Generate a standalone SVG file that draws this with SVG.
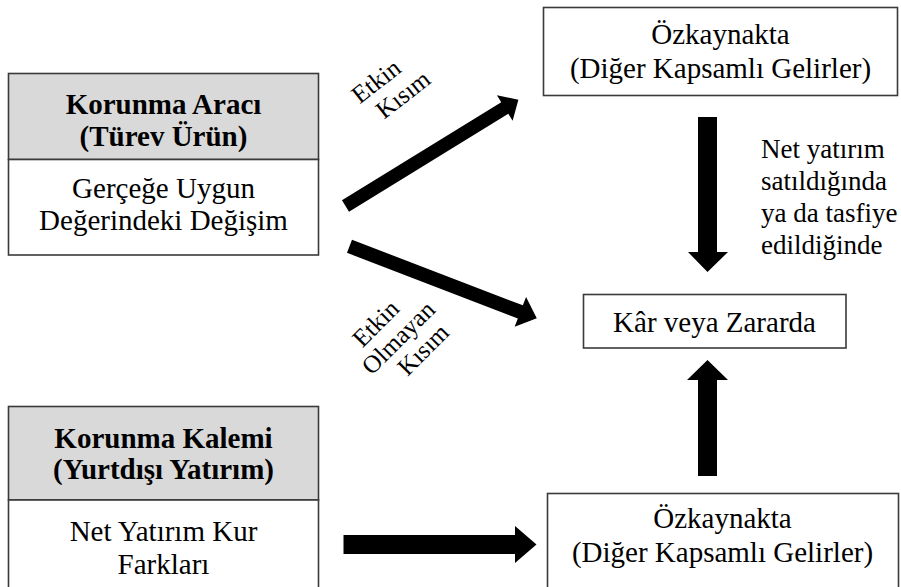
<svg xmlns="http://www.w3.org/2000/svg" width="901" height="587" viewBox="0 0 901 587" font-family="Liberation Serif, Times New Roman, serif">
  <style>
    .box { fill: #ffffff; stroke: #3a3a3a; stroke-width: 1.6; }
    .head { fill: #d9d9d9; stroke: #3a3a3a; stroke-width: 1.6; }
    .t { font-size: 29px; text-anchor: middle; fill: #000; }
    .b { font-weight: bold; }
    .lab { font-size: 27px; fill: #000; }
    .rot { font-size: 25px; text-anchor: middle; fill: #000; }
    .arrow { fill: #000; stroke: none; }
  </style>

  <!-- Hedging instrument -->
  <g id="node-instrument">
    <rect class="head" x="8.5" y="73.5" width="310" height="86"/>
    <rect class="box" x="8.5" y="159.5" width="310" height="95.5"/>
    <text class="t b" x="163.5" y="114">Korunma Aracı</text>
    <text class="t b" x="163.5" y="146">(Türev Ürün)</text>
    <text class="t" x="163.5" y="198">Gerçeğe Uygun</text>
    <text class="t" x="163.5" y="230">Değerindeki Değişim</text>
  </g>

  <!-- Hedged item -->
  <g id="node-hedged-item">
    <rect class="head" x="8.5" y="406.5" width="310" height="93.5"/>
    <rect class="box" x="8.5" y="500" width="310" height="100"/>
    <text class="t b" x="163.5" y="448">Korunma Kalemi</text>
    <text class="t b" x="163.5" y="479">(Yurtdışı Yatırım)</text>
    <text class="t" x="163.5" y="541">Net Yatırım Kur</text>
    <text class="t" x="163.5" y="574">Farkları</text>
  </g>

  <!-- Equity (OCI), top -->
  <g id="node-equity-top">
    <rect class="box" x="543.5" y="7.5" width="354" height="88"/>
    <text class="t" x="720.5" y="44">Özkaynakta</text>
    <text class="t" x="720.5" y="78">(Diğer Kapsamlı Gelirler)</text>
  </g>

  <!-- Profit or loss -->
  <g id="node-profit-loss">
    <rect class="box" x="583.5" y="294.5" width="262.5" height="53.5"/>
    <text class="t" x="714.5" y="332">Kâr veya Zararda</text>
  </g>

  <!-- Equity (OCI), bottom -->
  <g id="node-equity-bottom">
    <rect class="box" x="547.5" y="493.5" width="351" height="110"/>
    <text class="t" x="722.5" y="528">Özkaynakta</text>
    <text class="t" x="722.5" y="562">(Diğer Kapsamlı Gelirler)</text>
  </g>

  <!-- Connectors -->
  <g id="connectors">
    <path class="arrow" transform="translate(345.5,206) rotate(-31.6)" d="M0,-6.75 L187,-6.75 L187,-15 L203,0 L187,15 L187,6.75 L0,6.75 Z"/>
    <path class="arrow" transform="translate(349.5,246.3) rotate(21)" d="M0,-7 L183,-7 L183,-16 L200.6,0 L183,16 L183,7 L0,7 Z"/>
    <path class="arrow" d="M698,117 H717 V252 H728 L707.5,272 L688,252 H698 Z"/>
    <path class="arrow" d="M698,476 H717 V380 H728 L707.5,360 L687,380 H698 Z"/>
    <path class="arrow" d="M343.5,535 H515 V526 L536.5,544.5 L515,563 V554 H343.5 Z"/>
  </g>

  <!-- Connector labels -->
  <g id="label-effective">
    <text class="rot" transform="translate(390,86) rotate(-38)">
      <tspan x="-5" y="-4">Etkin</tspan>
      <tspan x="5" y="23">Kısım</tspan>
    </text>
  </g>
  <g id="label-ineffective">
    <text class="rot" transform="translate(400,335) rotate(-45)">
      <tspan x="-6" y="-17">Etkin</tspan>
      <tspan x="0" y="9">Olmayan</tspan>
      <tspan x="6" y="35">Kısım</tspan>
    </text>
  </g>
  <g id="label-disposal">
    <text class="lab" x="761" y="158">Net yatırım</text>
    <text class="lab" x="761" y="190">satıldığında</text>
    <text class="lab" x="761" y="222">ya da tasfiye</text>
    <text class="lab" x="761" y="254">edildiğinde</text>
  </g>
</svg>
